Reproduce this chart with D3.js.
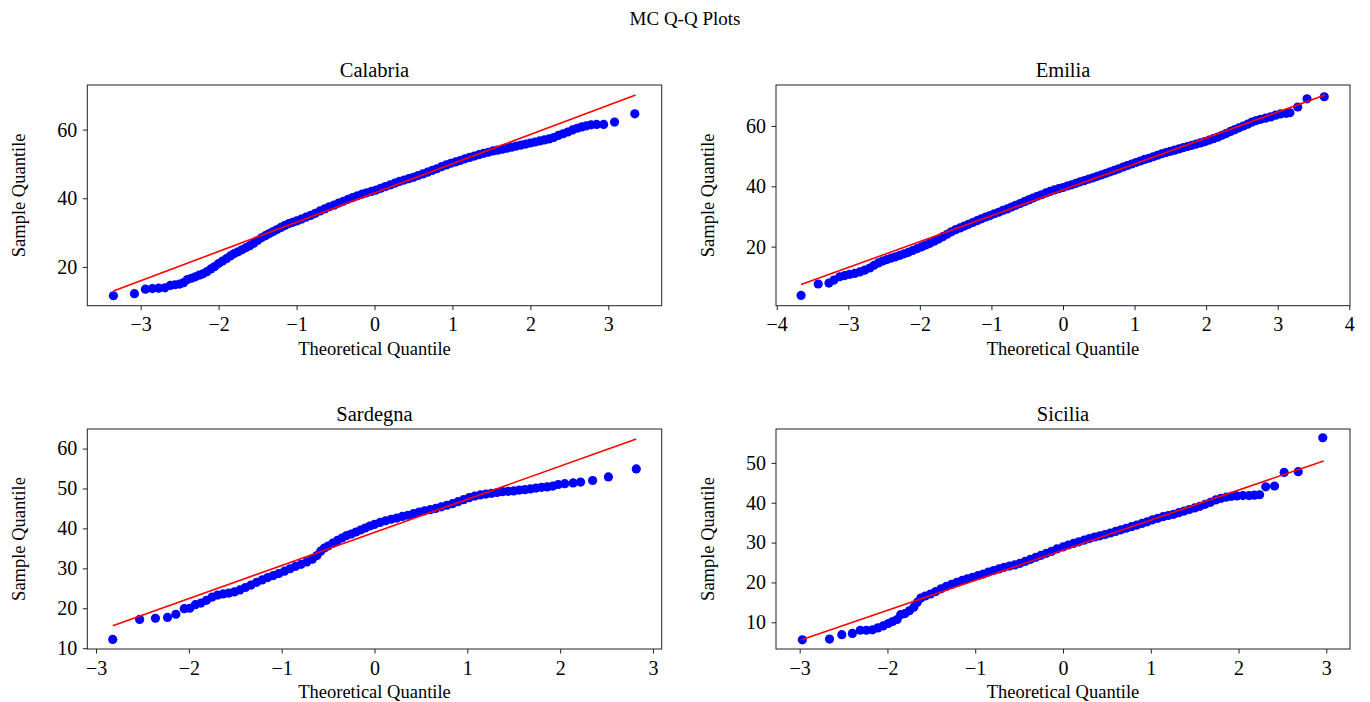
<!DOCTYPE html>
<html>
<head>
<meta charset="utf-8">
<script src="https://cdn.jsdelivr.net/npm/d3@7"></script>
<style>
  html, body { margin: 0; padding: 0; background: #fff; }
  svg { display: block; }
  text { font-family: "Liberation Serif", "DejaVu Serif", serif; fill: #000; }
</style>
</head>
<body>
<svg id="chart" width="1370" height="702"></svg>
<script>
// Q-Q points per region: [theoretical quantile, sample quantile]
const calabriaPoints = [
  [-3.35,11.6],[-3.08,12.2],[-2.94,13.5],[-2.85,13.7],[-2.77,13.8],[-2.69,13.9],[-2.62,14.6],[-2.56,14.8],
  [-2.50,15.0],[-2.45,15.4],[-2.40,16.3],[-2.35,16.7],[-2.30,17.1],[-2.25,17.6],[-2.20,18.0],[-2.15,18.6],
  [-2.10,19.4],[-2.05,20.1],[-2.00,21.0],[-1.95,21.7],[-1.90,22.4],[-1.85,23.2],[-1.80,23.9],[-1.75,24.4],
  [-1.70,25.0],[-1.65,25.6],[-1.60,26.2],[-1.55,26.9],[-1.50,27.7],[-1.45,28.5],[-1.40,29.1],[-1.35,29.7],
  [-1.30,30.3],[-1.25,30.9],[-1.20,31.5],[-1.15,32.1],[-1.10,32.6],[-1.05,33.0],[-1.00,33.4],[-0.94,33.9],
  [-0.88,34.5],[-0.82,35.0],[-0.76,35.6],[-0.70,36.3],[-0.64,36.9],[-0.58,37.5],[-0.52,38.0],[-0.46,38.6],
  [-0.40,39.1],[-0.34,39.7],[-0.28,40.2],[-0.22,40.7],[-0.16,41.2],[-0.10,41.6],[-0.04,42.0],[0.02,42.4],
  [0.08,42.9],[0.14,43.4],[0.20,43.9],[0.26,44.4],[0.32,44.9],[0.38,45.3],[0.44,45.7],[0.50,46.1],
  [0.56,46.6],[0.62,47.1],[0.68,47.6],[0.74,48.1],[0.80,48.6],[0.86,49.2],[0.92,49.7],[0.98,50.2],
  [1.04,50.6],[1.10,51.0],[1.16,51.5],[1.22,51.9],[1.28,52.3],[1.34,52.7],[1.40,53.1],[1.46,53.4],
  [1.52,53.8],[1.58,54.0],[1.64,54.3],[1.70,54.6],[1.76,54.9],[1.82,55.2],[1.88,55.5],[1.94,55.8],
  [2.00,56.1],[2.06,56.4],[2.12,56.7],[2.18,57.0],[2.24,57.3],[2.30,57.7],[2.36,58.3],[2.42,58.8],
  [2.48,59.3],[2.54,59.9],[2.60,60.4],[2.66,60.8],[2.72,61.1],[2.78,61.4],[2.85,61.5],[2.94,61.5],
  [3.08,62.2],[3.34,64.6]
];
const emiliaPoints = [
  [-3.66,3.8],[-3.42,7.6],[-3.27,7.9],[-3.20,8.9],[-3.12,10.0],[-3.05,10.4],[-2.98,10.8],[-2.91,11.1],
  [-2.84,11.6],[-2.77,12.2],[-2.70,12.9],[-2.64,13.8],[-2.58,14.6],[-2.52,15.2],[-2.46,15.7],[-2.40,16.2],
  [-2.34,16.6],[-2.28,17.1],[-2.22,17.6],[-2.16,18.1],[-2.10,18.7],[-2.04,19.3],[-1.98,19.9],[-1.92,20.5],
  [-1.86,21.1],[-1.80,21.8],[-1.74,22.5],[-1.68,23.3],[-1.62,24.1],[-1.56,24.9],[-1.50,25.6],[-1.44,26.2],
  [-1.38,26.8],[-1.32,27.4],[-1.26,28.0],[-1.20,28.6],[-1.14,29.2],[-1.08,29.8],[-1.02,30.3],[-0.96,30.9],
  [-0.90,31.4],[-0.84,32.0],[-0.78,32.5],[-0.72,33.1],[-0.66,33.7],[-0.60,34.3],[-0.54,34.9],[-0.48,35.5],
  [-0.42,36.1],[-0.36,36.7],[-0.30,37.2],[-0.24,37.8],[-0.18,38.3],[-0.12,38.8],[-0.06,39.2],[0.00,39.6],
  [0.06,40.1],[0.12,40.5],[0.18,41.0],[0.24,41.5],[0.30,41.9],[0.36,42.4],[0.42,42.8],[0.48,43.3],
  [0.54,43.8],[0.60,44.3],[0.66,44.8],[0.72,45.3],[0.78,45.8],[0.84,46.4],[0.90,46.9],[0.96,47.4],
  [1.02,47.9],[1.08,48.4],[1.14,48.9],[1.20,49.3],[1.26,49.8],[1.32,50.3],[1.38,50.8],[1.44,51.2],
  [1.50,51.6],[1.56,52.0],[1.62,52.4],[1.68,52.8],[1.74,53.2],[1.80,53.6],[1.86,54.0],[1.92,54.4],
  [1.98,54.8],[2.04,55.3],[2.10,55.8],[2.16,56.3],[2.22,56.9],[2.28,57.5],[2.34,58.2],[2.40,58.8],
  [2.46,59.4],[2.52,60.0],[2.58,60.6],[2.64,61.3],[2.70,61.8],[2.76,62.2],[2.83,62.6],[2.90,63.0],
  [2.97,63.6],[3.04,64.0],[3.12,64.2],[3.17,64.4],[3.28,66.3],[3.41,69.0],[3.65,69.7]
];
const sardegnaPoints = [
  [-2.82,12.2],[-2.53,17.2],[-2.36,17.5],[-2.23,17.7],[-2.14,18.5],[-2.05,19.9],[-1.99,20.0],[-1.93,20.9],
  [-1.87,21.3],[-1.81,22.0],[-1.75,22.8],[-1.69,23.3],[-1.63,23.6],[-1.57,23.8],[-1.51,24.1],[-1.45,24.6],
  [-1.39,25.2],[-1.33,25.8],[-1.27,26.5],[-1.21,27.1],[-1.15,27.7],[-1.09,28.2],[-1.03,28.7],[-0.97,29.3],
  [-0.91,29.9],[-0.85,30.5],[-0.79,31.0],[-0.73,31.6],[-0.67,32.3],[-0.62,33.2],[-0.58,34.3],[-0.54,35.1],
  [-0.50,35.6],[-0.45,36.3],[-0.40,37.0],[-0.35,37.6],[-0.30,38.2],[-0.25,38.6],[-0.20,39.1],[-0.15,39.6],
  [-0.10,40.1],[-0.05,40.6],[0.00,41.0],[0.06,41.5],[0.12,41.9],[0.18,42.3],[0.24,42.6],[0.30,43.0],
  [0.36,43.3],[0.42,43.7],[0.48,44.1],[0.54,44.4],[0.60,44.7],[0.66,45.0],[0.72,45.4],[0.78,45.8],
  [0.84,46.2],[0.90,46.7],[0.96,47.2],[1.02,47.7],[1.08,48.1],[1.14,48.4],[1.20,48.6],[1.26,48.8],
  [1.32,49.0],[1.38,49.2],[1.44,49.3],[1.50,49.4],[1.56,49.6],[1.62,49.7],[1.68,49.9],[1.74,50.1],
  [1.80,50.3],[1.86,50.4],[1.92,50.6],[1.98,51.0],[2.05,51.2],[2.14,51.4],[2.22,51.6],[2.35,52.0],
  [2.52,52.9],[2.82,54.9]
];
const siciliaPoints = [
  [-2.97,5.6],[-2.66,5.8],[-2.52,6.9],[-2.40,7.2],[-2.31,8.0],[-2.24,8.0],[-2.17,8.1],[-2.11,8.6],
  [-2.05,9.1],[-1.99,9.7],[-1.94,10.2],[-1.89,10.7],[-1.85,11.9],[-1.80,12.2],[-1.75,12.9],[-1.70,13.8],
  [-1.66,15.0],[-1.62,16.1],[-1.57,16.6],[-1.51,17.1],[-1.45,17.7],[-1.39,18.4],[-1.33,19.0],[-1.27,19.5],
  [-1.21,20.0],[-1.15,20.5],[-1.09,20.9],[-1.03,21.3],[-0.97,21.7],[-0.91,22.1],[-0.85,22.6],[-0.79,23.0],
  [-0.73,23.4],[-0.67,23.8],[-0.61,24.1],[-0.55,24.4],[-0.49,24.8],[-0.43,25.3],[-0.37,25.8],[-0.31,26.3],
  [-0.25,26.8],[-0.19,27.3],[-0.13,27.8],[-0.07,28.4],[0.00,28.9],[0.06,29.4],[0.12,29.8],[0.18,30.2],
  [0.24,30.6],[0.30,31.0],[0.36,31.4],[0.42,31.7],[0.48,32.0],[0.54,32.4],[0.60,32.8],[0.66,33.2],
  [0.72,33.6],[0.78,34.0],[0.84,34.4],[0.90,34.8],[0.96,35.2],[1.02,35.7],[1.08,36.1],[1.14,36.5],
  [1.20,36.8],[1.26,37.1],[1.32,37.5],[1.38,37.9],[1.44,38.3],[1.50,38.7],[1.56,39.1],[1.62,39.6],
  [1.68,40.1],[1.74,40.7],[1.80,41.1],[1.86,41.4],[1.92,41.6],[1.98,41.7],[2.05,41.8],[2.12,41.8],
  [2.18,41.9],[2.24,42.0],[2.31,44.0],[2.41,44.2],[2.52,47.6],[2.68,47.8],[2.96,56.3]
];

// Reference (fitted) line endpoints: [theoretical, sample]
const calabriaLine = [[-3.35,13.0],[3.35,70.1]];
const emiliaLine   = [[-3.66,7.4],[3.66,70.3]];
const sardegnaLine = [[-2.82,15.6],[2.82,62.4]];
const siciliaLine  = [[-2.97,5.7],[2.97,50.5]];

// Tick values
const calabriaXTicks = [-3,-2,-1,0,1,2,3];
const calabriaYTicks = [20,40,60];
const emiliaXTicks   = [-4,-3,-2,-1,0,1,2,3,4];
const emiliaYTicks   = [20,40,60];
const sardegnaXTicks = [-3,-2,-1,0,1,2,3];
const sardegnaYTicks = [10,20,30,40,50,60];
const siciliaXTicks  = [-3,-2,-1,0,1,2,3];
const siciliaYTicks  = [10,20,30,40,50];

const panelTitles = ["Calabria","Emilia","Sardegna","Sicilia"];
const figureTitle = "MC Q-Q Plots";
const xLabel = "Theoretical Quantile";
const yLabel = "Sample Quantile";

// Panel layout (frame boxes) and axis extents
const panels = [
  { title: panelTitles[0], points: calabriaPoints, line: calabriaLine, xTicks: calabriaXTicks, yTicks: calabriaYTicks,
    box: {x0: 87.3, x1: 661.7, y0: 85, y1: 305.7}, xDom: [-3.685, 3.685], yDom: [8.7, 73.0] },
  { title: panelTitles[1], points: emiliaPoints, line: emiliaLine, xTicks: emiliaXTicks, yTicks: emiliaYTicks,
    box: {x0: 776, x1: 1350, y0: 85, y1: 305.7}, xDom: [-4.01, 4.01], yDom: [0.4, 73.6] },
  { title: panelTitles[2], points: sardegnaPoints, line: sardegnaLine, xTicks: sardegnaXTicks, yTicks: sardegnaYTicks,
    box: {x0: 87.3, x1: 661.7, y0: 429, y1: 649}, xDom: [-3.094, 3.094], yDom: [9.8, 64.9] },
  { title: panelTitles[3], points: siciliaPoints, line: siciliaLine, xTicks: siciliaXTicks, yTicks: siciliaYTicks,
    box: {x0: 776, x1: 1350, y0: 429, y1: 649}, xDom: [-3.27, 3.27], yDom: [3.3, 58.5] }
];

const svg = d3.select("#chart");

svg.append("text")
  .attr("x", 685).attr("y", 25)
  .attr("text-anchor", "middle")
  .style("font-size", "19px")
  .text(figureTitle);

panels.forEach(p => {
  const b = p.box;
  const x = d3.scaleLinear().domain(p.xDom).range([b.x0, b.x1]);
  const y = d3.scaleLinear().domain(p.yDom).range([b.y1, b.y0]);
  const g = svg.append("g");

  const clipId = "clip-" + p.title;
  g.append("clipPath").attr("id", clipId)
    .append("rect").attr("x", b.x0).attr("y", b.y0)
    .attr("width", b.x1 - b.x0).attr("height", b.y1 - b.y0);

  const plot = g.append("g").attr("clip-path", `url(#${clipId})`);

  plot.selectAll("circle")
    .data(p.points)
    .join("circle")
    .attr("cx", d => x(d[0]))
    .attr("cy", d => y(d[1]))
    .attr("r", 4.6)
    .attr("fill", "#0000ff");

  plot.append("path")
    .datum(p.line)
    .attr("d", d3.line().x(d => x(d[0])).y(d => y(d[1])))
    .attr("fill", "none")
    .attr("stroke", "#ff0000")
    .attr("stroke-width", 1.6);

  // Frame
  g.append("rect")
    .attr("x", b.x0).attr("y", b.y0)
    .attr("width", b.x1 - b.x0).attr("height", b.y1 - b.y0)
    .attr("fill", "none").attr("stroke", "#222").attr("stroke-width", 1);

  const xAxis = g.append("g")
    .attr("transform", `translate(0,${b.y1})`)
    .call(d3.axisBottom(x).tickValues(p.xTicks).tickSize(4.5).tickSizeOuter(0).tickPadding(7)
      .tickFormat(d3.format("d")));
  const yAxis = g.append("g")
    .attr("transform", `translate(${b.x0},0)`)
    .call(d3.axisLeft(y).tickValues(p.yTicks).tickSize(4.5).tickSizeOuter(0).tickPadding(5.5)
      .tickFormat(d3.format("d")));
  [xAxis, yAxis].forEach(a => {
    a.select(".domain").remove();
    a.selectAll("line").attr("stroke", "#222");
    a.selectAll("text").style("font-size", "20px").attr("fill", "#000");
  });

  g.append("text")
    .attr("x", (b.x0 + b.x1) / 2).attr("y", b.y0 - 8.5)
    .attr("text-anchor", "middle")
    .style("font-size", "20.5px")
    .text(p.title);

  g.append("text")
    .attr("x", (b.x0 + b.x1) / 2).attr("y", b.y1 + 49)
    .attr("text-anchor", "middle")
    .style("font-size", "18.5px")
    .text(xLabel);

  g.append("text")
    .attr("transform", `translate(${b.x0 - 62},${(b.y0 + b.y1) / 2}) rotate(-90)`)
    .attr("text-anchor", "middle")
    .style("font-size", "18.5px")
    .text(yLabel);
});
</script>
</body>
</html>
